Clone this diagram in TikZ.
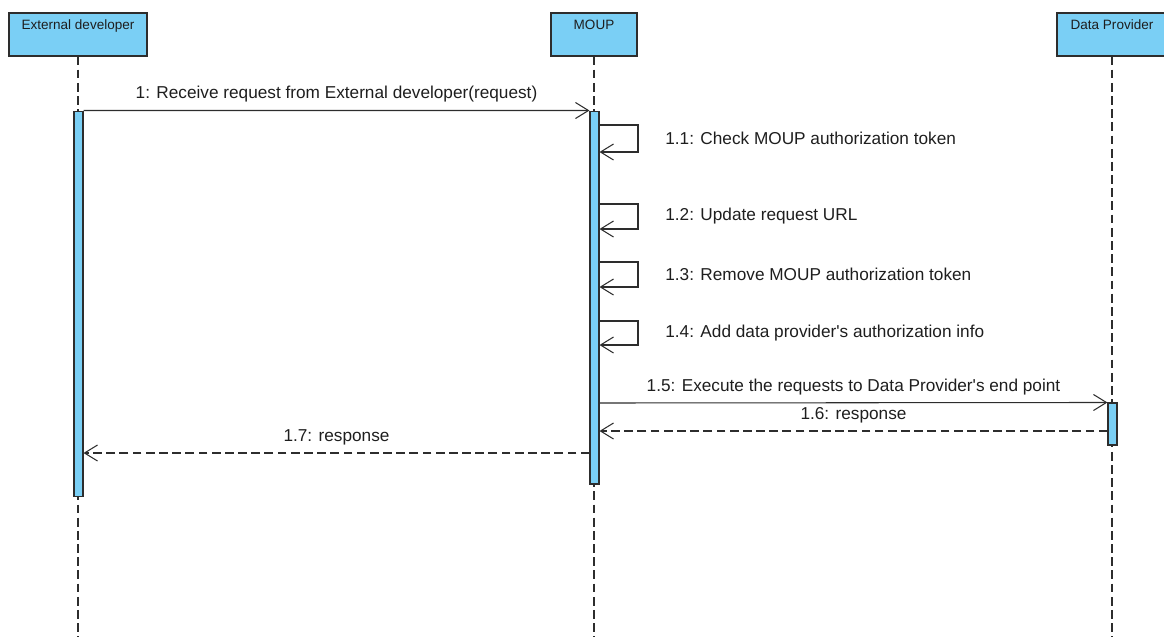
\documentclass[tikz,border=0pt]{standalone}
\usepackage{fontspec}
\setmainfont{Liberation Sans}
\usepackage{tikz}
\usetikzlibrary{arrows.meta,positioning,calc}
\definecolor{lifefill}{RGB}{122,207,245}
\definecolor{lineclr}{RGB}{45,45,45}
\definecolor{txtclr}{RGB}{30,30,30}

\begin{document}
\begin{tikzpicture}[x=0.02cm,y=-0.02cm,
  every node/.style={font=\fontsize{9.8}{11}\selectfont,text=txtclr},
  hdr/.style={draw=lineclr,fill=lifefill,line width=0.6pt,minimum height=0.86cm,inner sep=0pt},
  hdrtxt/.style={font=\fontsize{7.7}{9}\selectfont,anchor=north,inner sep=4pt},
  act/.style={draw=lineclr,fill=lifefill,line width=0.6pt,minimum width=0.18cm,inner sep=0pt},
  life/.style={lineclr,line width=0.6pt,dash pattern=on 5pt off 2.5pt},
  ar/.style={-{Straight Barb[length=2.6mm,width=3.2mm]},lineclr,line width=0.6pt},
  ret/.style={ar,dash pattern=on 5pt off 2.5pt}]
\useasboundingbox (0,0) rectangle (1164,637);
% lifeline heads
\node[hdr,minimum width=2.76cm,label={[hdrtxt]90:External developer}] (h1) at (78,34.5) {};
\node[hdr,minimum width=1.72cm,label={[hdrtxt]90:MOUP}] (h2) at (594,34.5) {};
\node[hdr,minimum width=2.2cm,label={[hdrtxt]90:Data Provider}] (h3) at (1112,34.5) {};
\coordinate (e1) at (78,637);
\coordinate (e2) at (594,637);
\coordinate (e3) at (1112,637);
\foreach \x in {1,2,3} \draw[life] (h\x) -- (e\x);
% activations
\node[act,minimum height=7.72cm] (a1) at (78.5,304) {};
\node[act,minimum height=7.46cm] (a2) at (594.5,297.5) {};
\node[act,minimum height=0.84cm] (a3) at (1112.5,424) {};
% messages
\draw[ar] (a1.north east) -- node[above=1pt] {1: Receive request from External developer(request)} (a2.north west);
\foreach \t/\b/\txt in {125/152/{1.1: Check MOUP authorization token},
  204/229/{1.2: Update request URL},
  262/287/{1.3: Remove MOUP authorization token},
  321/345/{1.4: Add data provider\textquotesingle s authorization info}}
  \draw[ar] (a2.east |- 0,\t) -- (638,\t) -- node[right=0.42cm] {\txt} (638,\b) -- (a2.east |- 0,\b);
\draw[ar] (a2.east |- 0,403) -- node[above=1pt] {1.5: Execute the requests to Data Provider\textquotesingle s end point} (a3.north west);
\draw[ret] (a3.west |- 0,431) -- node[above=1pt] {1.6: response} (a2.east |- 0,431);
\draw[ret] (a2.west |- 0,453) -- node[above=1pt] {1.7: response} (a1.east |- 0,453);
\end{tikzpicture}
\end{document}
